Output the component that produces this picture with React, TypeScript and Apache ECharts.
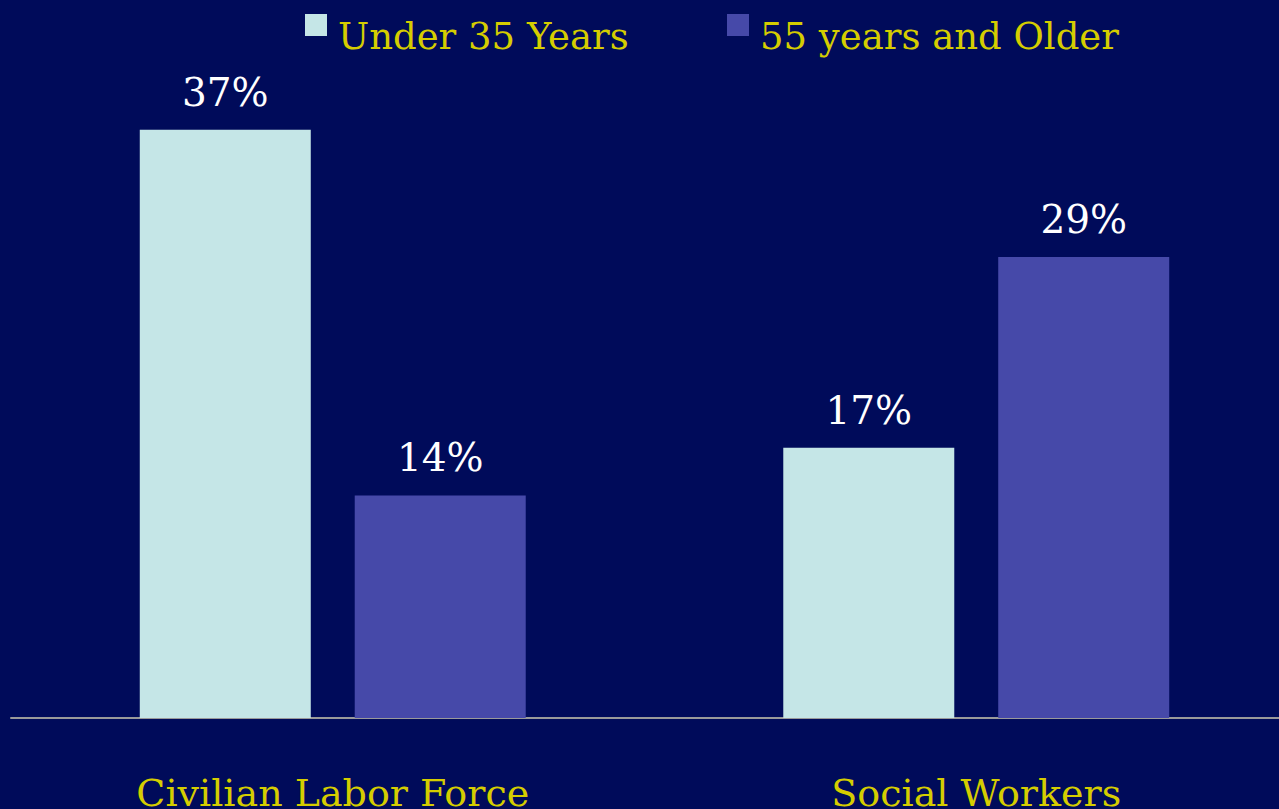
import React, { useEffect, useRef } from "react";
import * as echarts from "echarts";

const categories = ["Civilian Labor Force", "Social Workers"];
const seriesNames = ["Under 35 Years", "55 years and Older"];
const under35 = [37, 17];
const over55 = [14, 29];

const BG = "#000B5A";
const YELLOW = "#D5CD00";
const LIGHT = "#C5E6E7";
const PURPLE = "#4649A9";
const FONT = "DejaVu Serif";

export default function App() {
  const ref = useRef<HTMLDivElement>(null);
  useEffect(() => {
    if (!ref.current) return;
    const chart = echarts.init(ref.current, undefined, { renderer: "svg" });
    const labelStyle = {
      show: true,
      position: "top" as const,
      distance: 18,
      color: "#FFFFFF",
      fontSize: 39,
      lineHeight: 39,
      fontFamily: FONT,
      formatter: "{c}%",
    };
    const legendItems = [
      { x: 305, color: LIGHT, name: seriesNames[0] },
      { x: 727, color: PURPLE, name: seriesNames[1] },
    ];
    chart.setOption({
      animation: false,
      backgroundColor: BG,
      graphic: legendItems.flatMap((it) => [
        {
          type: "rect",
          shape: { x: it.x, y: 14, width: 22, height: 22 },
          style: { fill: it.color },
        },
        {
          type: "text",
          x: it.x + 33,
          y: 36,
          style: {
            text: it.name,
            fill: YELLOW,
            font: `37px ${FONT}`,
            verticalAlign: "middle",
            align: "left",
          },
        },
      ]),
      grid: {
        left: 11,
        top: 82,
        width: 1287,
        height: 636,
        containLabel: false,
        outerBoundsMode: "none",
      },
      xAxis: {
        type: "category",
        data: categories,
        axisLine: { show: true, lineStyle: { color: "#9A9A9A", width: 2 } },
        axisTick: { show: false },
        axisLabel: {
          color: YELLOW,
          fontSize: 38,
          lineHeight: 38,
          fontFamily: FONT,
          margin: 56,
          interval: 0,
        },
      },
      yAxis: {
        type: "value",
        min: 0,
        max: 40,
        show: false,
        splitLine: { show: false },
      },
      series: [
        {
          name: seriesNames[0],
          type: "bar",
          data: under35,
          barWidth: 171,
          barGap: "25.7%",
          itemStyle: { color: LIGHT },
          label: labelStyle,
        },
        {
          name: seriesNames[1],
          type: "bar",
          data: over55,
          barWidth: 171,
          barGap: "25.7%",
          itemStyle: { color: PURPLE },
          label: labelStyle,
        },
      ],
    });
    return () => chart.dispose();
  }, []);
  return (
    <div
      style={{
        position: "absolute",
        left: 0,
        top: 0,
        width: 1279,
        height: 809,
        overflow: "hidden",
        background: BG,
      }}
    >
      <div ref={ref} style={{ width: 1300, height: 809 }} />
    </div>
  );
}
